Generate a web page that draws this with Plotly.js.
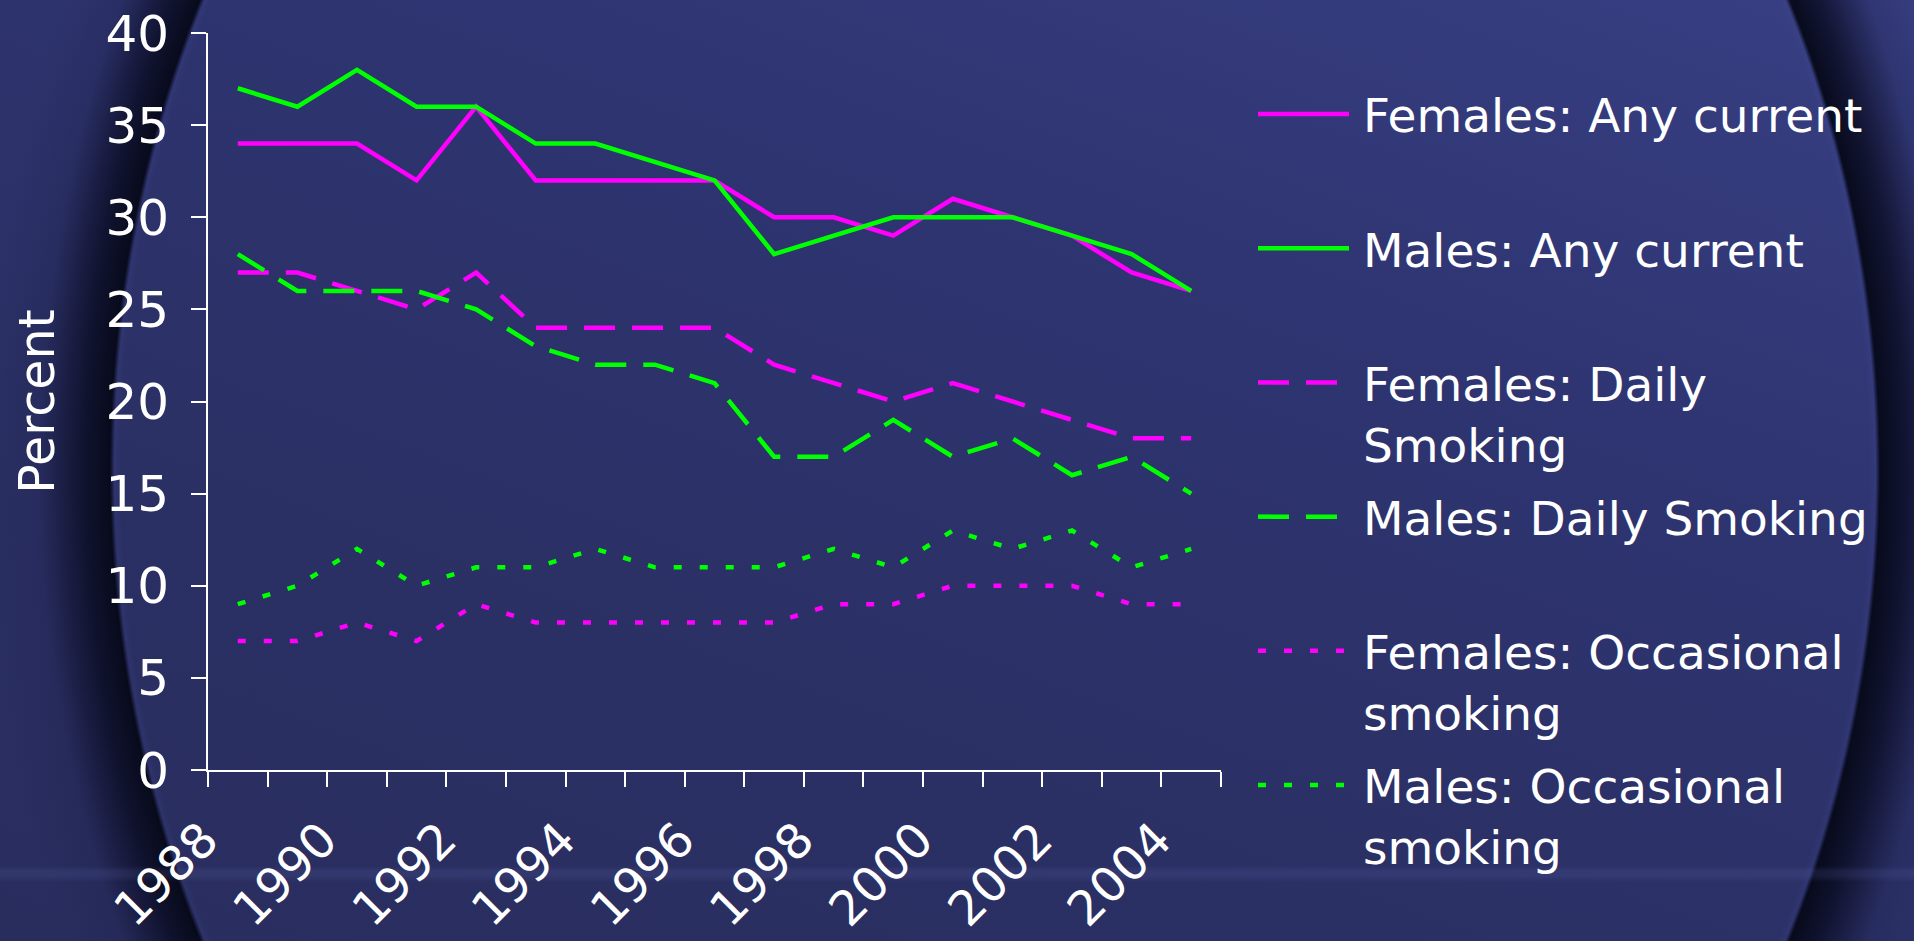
<!DOCTYPE html>
<html>
<head>
<meta charset="utf-8">
<script src="https://cdn.plot.ly/plotly-3.0.1.min.js"></script>
<style>
html, body { margin:0; padding:0; width:1914px; height:941px; overflow:hidden; }
body {
  background:
    linear-gradient(to bottom, rgba(0,0,0,0) 866px, rgba(95,105,175,0.16) 871px, rgba(95,105,175,0.16) 876px, rgba(0,0,0,0) 882px),
    radial-gradient(885px 1070px at 995px 470px,
      rgba(0,0,0,0) 0%, rgba(0,0,0,0) 98.8%, rgba(70,80,160,0.15) 99.5%,
      rgba(6,8,24,0.95) 100%, rgba(10,12,34,0.8) 103%, rgba(30,34,78,0.3) 108%, rgba(0,0,0,0) 114%),
    linear-gradient(200deg, #383f83 0%, #2e3470 35%, #2b3065 65%, #292d5e 100%);
}
#chart { position:absolute; left:0; top:0; width:1914px; height:941px; }
</style>
</head>
<body>
<div id="chart"></div>
<script>
// ---- data ----
const years = [1988,1989,1990,1991,1992,1993,1994,1995,1996,1997,1998,1999,2000,2001,2002,2003,2004];
const labelYears = [1988,1990,1992,1994,1996,1998,2000,2002,2004];

const femalesAnyCurrent   = [34,34,34,32,36,32,32,32,32,30,30,29,31,30,29,27,26];
const malesAnyCurrent     = [37,36,38,36,36,34,34,33,32,28,29,30,30,30,29,28,26];
const femalesDaily        = [27,27,26,25,27,24,24,24,24,22,21,20,21,20,19,18,18];
const malesDaily          = [28,26,26,26,25,23,22,22,21,17,17,19,17,18,16,17,15];
const femalesOccasional   = [7,7,8,7,9,8,8,8,8,8,9,9,10,10,10,9,9];
const malesOccasional     = [9,10,12,10,11,11,12,11,11,11,12,11,13,12,13,11,12];

const seriesNames = [
  "Females: Any current<br>\u00a0",
  "Males: Any current<br>\u00a0",
  "Females: Daily<br>Smoking",
  "Males: Daily Smoking<br>\u00a0",
  "Females: Occasional<br>smoking",
  "Males: Occasional<br>smoking"
];
const seriesValues = [femalesAnyCurrent, malesAnyCurrent, femalesDaily, malesDaily, femalesOccasional, malesOccasional];

// ---- styles ----
const MAGENTA = "#ff00ff", GREEN = "#00ff00";
const styles = [
  {color: MAGENTA, dash: "solid"},
  {color: GREEN,   dash: "solid"},
  {color: MAGENTA, dash: "31px,17px"},
  {color: GREEN,   dash: "31px,17px"},
  {color: MAGENTA, dash: "8px,18px"},
  {color: GREEN,   dash: "8px,18px"}
];
const FONT = "DejaVu Sans, Verdana, sans-serif";

const traces = seriesValues.map((vals, i) => ({
  type: "scatter",
  mode: "lines",
  x: years,
  y: vals,
  name: seriesNames[i],
  legendgroup: "g" + i,
  line: {color: styles[i].color, width: 4.5, dash: styles[i].dash},
  hoverinfo: "skip"
}));

const xMin = years[0] - 0.5, xMax = years[years.length - 1] + 0.5;

const layout = {
  width: 1914, height: 941,
  paper_bgcolor: "rgba(0,0,0,0)",
  plot_bgcolor: "rgba(0,0,0,0)",
  margin: {l: 208, r: 693, t: 33, b: 171, pad: 0},
  showlegend: true,
  legend: {
    xref: "container", yref: "container",
    x: 1253 / 1914, y: 1 - 77 / 941,
    xanchor: "left", yanchor: "top",
    bgcolor: "rgba(0,0,0,0)", borderwidth: 0,
    font: {family: FONT, size: 47, color: "#ffffff"},
    itemwidth: 100,
    valign: "top",
    tracegroupgap: 9,
    maxheight: 900
  },
  xaxis: {
    type: "linear",
    range: [xMin, xMax],
    tickmode: "array", tickvals: labelYears, ticktext: labelYears.map(String),
    ticks: "",
    tickangle: -45,
    tickfont: {family: FONT, size: 48, color: "#ffffff"},
    ticklabelshift: -34,
    ticklabelstandoff: 20,
    minor: {tickmode: "linear", tick0: xMin, dtick: 1, ticks: "outside", ticklen: 15, tickwidth: 2, tickcolor: "#ffffff", showgrid: false},
    showline: true, linecolor: "#ffffff", linewidth: 2,
    showgrid: false, zeroline: false, fixedrange: true
  },
  yaxis: {
    range: [0, 40],
    tickmode: "linear", tick0: 0, dtick: 5,
    ticks: "outside", ticklen: 15, tickwidth: 2, tickcolor: "#ffffff",
    showline: true, linecolor: "#ffffff", linewidth: 2,
    showgrid: false, zeroline: false,
    tickfont: {family: FONT, size: 50, color: "#ffffff"},
    ticklabelstandoff: 12,
    title: {text: "Percent", font: {family: FONT, size: 49, color: "#ffffff"}, standoff: 35},
    fixedrange: true
  }
};

Plotly.newPlot("chart", traces, layout, {displayModeBar: false, staticPlot: true}).then(gd => {
  const fix = () => {
    gd.querySelectorAll(".legend .legendlines path").forEach(p => p.setAttribute("d", "M5,0h91"));
  };
  fix();
  gd.on && gd.on("plotly_afterplot", fix);
});
</script>
</body>
</html>
